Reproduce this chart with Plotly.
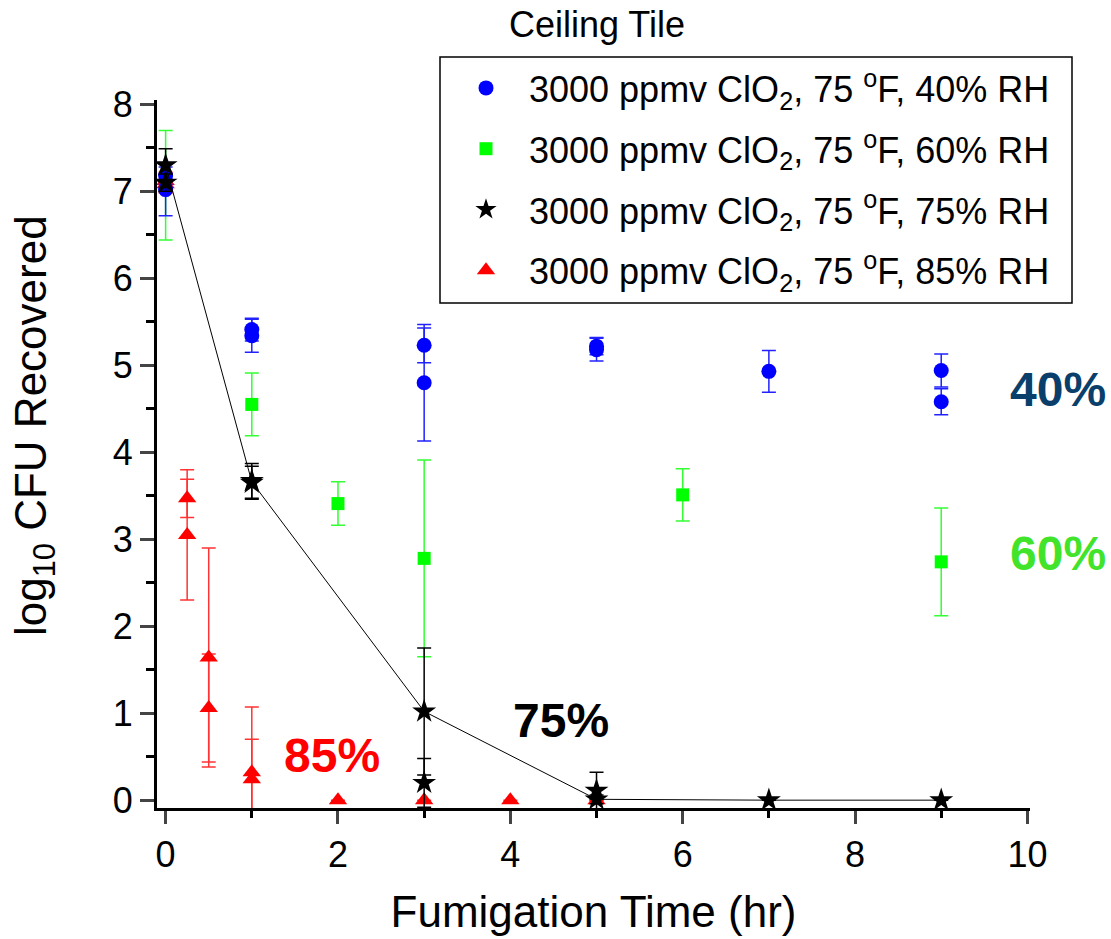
import plotly.graph_objects as go

# ---- data: log10 CFU recovered vs fumigation time, ceiling tile coupons ----
rh40_t = [0, 0, 1, 1, 3, 3, 5, 5, 7, 9, 9]
rh40_y = [7.18, 7.02, 5.41, 5.34, 5.23, 4.80, 5.22, 5.18, 4.93, 4.94, 4.58]
rh40_e = [0.10, 0.30, 0.13, 0.19, 0.20, 0.67, 0.10, 0.13, 0.24, 0.19, 0.15]

rh60_t = [0, 1, 2, 3, 6, 9]
rh60_y = [7.07, 4.55, 3.41, 2.78, 3.51, 2.74]
rh60_e = [0.63, 0.36, 0.25, 1.13, 0.30, 0.62]

rh75_t = [0, 0, 1, 1, 3, 3, 5, 5, 7, 9]
rh75_y = [7.30, 7.10, 3.67, 3.65, 1.02, 0.20, 0.11, 0.01, 0.0, 0.0]
rh75_e = [0.19, 0.10, 0.20, 0.19, 0.73, 0.28, 0.21, 0.05, 0.0, 0.0]

# trend line drawn through the 75% RH results
rh75_line_t = [0, 1, 3, 5, 7, 9]
rh75_line_y = [7.30, 3.66, 1.02, 0.01, 0.0, 0.0]

rh85_t = [0, 0, 0.25, 0.25, 0.5, 0.5, 1, 1, 2, 3, 4, 5]
rh85_y = [7.12, 7.08, 3.47, 3.05, 1.64, 1.06, 0.32, 0.24, 0.0, 0.0, 0.0, 0.0]
rh85_e = [0.10, 0.10, 0.22, 0.75, 1.26, 0.62, 0.75, 0.46, 0.0, 0.0, 0.0, 0.0]

x_ticks = [0, 2, 4, 6, 8, 10]
y_ticks = [0, 1, 2, 3, 4, 5, 6, 7, 8]

legend_names = [
    "3000 ppmv ClO<sub>2</sub>, 75 <sup>o</sup>F, 40% RH",
    "3000 ppmv ClO<sub>2</sub>, 75 <sup>o</sup>F, 60% RH",
    "3000 ppmv ClO<sub>2</sub>, 75 <sup>o</sup>F, 75% RH",
    "3000 ppmv ClO<sub>2</sub>, 75 <sup>o</sup>F, 85% RH",
]

FONT = "Liberation Sans, Arial, sans-serif"

# plot-area geometry in pixels (used to place paper-referenced items)
L, R, T, B = 157, 1030, 100, 808
PW, PH = R - L, B - T


def px(xp):
    return (xp - L) / PW


def py(yp):
    return (B - yp) / PH


def err(values, color):
    return dict(type="data", array=values, visible=True, color=color,
                thickness=1.5, width=7)


fig = go.Figure()

# draw order: green, red, blue, black (legend order set by legendrank)
fig.add_trace(go.Scatter(
    x=rh60_t, y=rh60_y, mode="markers", name=legend_names[1],
    marker=dict(symbol="square", size=13, color="#00ff00"),
    error_y=err(rh60_e, "#33ff33"), legendrank=2, legendgroup="g60",
))
fig.add_trace(go.Scatter(
    x=rh85_t, y=rh85_y, mode="markers", name=legend_names[3],
    marker=dict(symbol="triangle-up", size=16, color="#ff0000"),
    error_y=err(rh85_e, "#ff3333"), legendrank=4, legendgroup="g85",
))
fig.add_trace(go.Scatter(
    x=rh40_t, y=rh40_y, mode="markers", name=legend_names[0],
    marker=dict(symbol="circle", size=15, color="#0000ff"),
    error_y=err(rh40_e, "#2222ff"), legendrank=1, legendgroup="g40",
))
fig.add_trace(go.Scatter(
    x=rh75_line_t, y=rh75_line_y, mode="lines", showlegend=False,
    line=dict(color="black", width=1), hoverinfo="skip",
))
fig.add_trace(go.Scatter(
    x=rh75_t, y=rh75_y, mode="markers", name=legend_names[2],
    marker=dict(symbol="star", size=18, color="black"),
    error_y=err(rh75_e, "black"), legendrank=3, legendgroup="g75",
))

# legend frame
fig.add_shape(type="rect", xref="paper", yref="paper",
              x0=px(440), x1=px(1072), y0=py(303), y1=py(57),
              line=dict(color="black", width=1.5), fillcolor="rgba(0,0,0,0)")

# humidity labels
labels = [
    ("40%", 1058, 390, "#0b3f6b"),
    ("60%", 1058, 553, "#41e42a"),
    ("75%", 561, 720, "black"),
    ("85%", 332, 755, "#ff0000"),
]
for txt, lx, ly, col in labels:
    fig.add_annotation(x=px(lx), y=py(ly), xref="paper", yref="paper",
                       xanchor="center", yanchor="middle", text=f"<b>{txt}</b>",
                       showarrow=False, font=dict(family=FONT, size=48, color=col))

# y-axis title
fig.add_annotation(
    x=px(34), y=py(426), xref="paper", yref="paper", xanchor="center", yanchor="middle",
    text="log<sub>10</sub> CFU Recovered", textangle=-90, showarrow=False,
    font=dict(family=FONT, size=44, color="black"),
)

fig.update_layout(
    width=1111, height=939,
    margin=dict(l=L, r=1111 - R, t=T, b=939 - B),
    paper_bgcolor="white", plot_bgcolor="white",
    font=dict(family=FONT, color="black"),
    title=dict(text="Ceiling Tile", x=597 / 1111, xanchor="center",
               y=1 - 24 / 939, yanchor="middle",
               font=dict(family=FONT, size=36, color="black")),
    showlegend=True,
    legend=dict(x=px(443), y=py(58), xanchor="left", yanchor="top",
                bgcolor="rgba(0,0,0,0)", borderwidth=0,
                font=dict(family=FONT, size=36, color="black"),
                tracegroupgap=11, itemsizing="trace", itemwidth=76),
    xaxis=dict(
        range=[-0.1, 10.03], tickvals=x_ticks, ticks="outside", ticklen=13,
        tickwidth=2.5, showline=True, linewidth=3, linecolor="black",
        showgrid=False, zeroline=False, tickfont=dict(family=FONT, size=36),
        minor=dict(dtick=1, ticks="outside", ticklen=7, tickwidth=2.5, tickcolor="black"),
        title=dict(text="Fumigation Time (hr)", font=dict(family=FONT, size=44), standoff=22),
    ),
    yaxis=dict(
        range=[-0.09, 8.05], tickvals=y_ticks, ticks="outside", ticklen=14,
        tickwidth=2.5, showline=True, linewidth=3, linecolor="black",
        showgrid=False, zeroline=False, tickfont=dict(family=FONT, size=36),
        minor=dict(dtick=0.5, ticks="outside", ticklen=8, tickwidth=2.5, tickcolor="black"),
    ),
)

fig.write_html("out.html")
